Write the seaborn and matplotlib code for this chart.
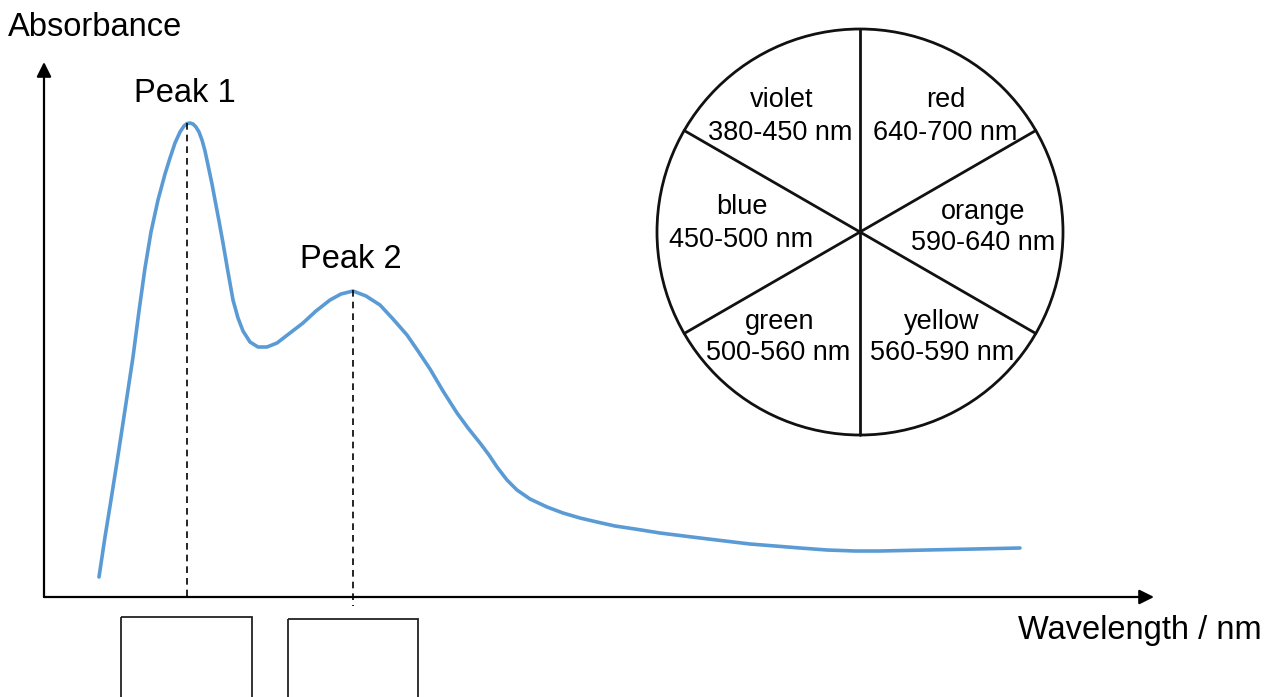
import numpy as np
import pandas as pd
import matplotlib.pyplot as plt
import seaborn as sns
from matplotlib.patches import Circle, Rectangle

# absorbance curve (canvas pixels, y grows downward)
curve_x = [99, 105, 111, 117, 123, 128, 133, 139, 145, 151, 158, 165, 170, 175, 180,
           184, 187, 190, 193, 196, 199, 202, 205, 208, 212, 215, 219, 223, 228, 233,
           238, 243, 250, 258, 267, 277, 290, 303, 316, 330, 341, 353, 366, 380, 393,
           407, 418, 430, 443, 457, 468, 480, 489, 497, 507, 517, 530, 547, 563, 580,
           597, 615, 635, 660, 700, 750, 800, 827, 855, 880, 927, 975, 1020]
curve_y = [577, 537, 500, 462, 423, 390, 357, 311, 268, 232, 200, 174, 158, 143, 132,
           126, 123.5, 123, 124, 127, 132, 140, 151, 165, 184, 200, 221, 243, 272, 300,
           318, 331, 342, 347, 347, 343, 333, 323, 311, 300, 294, 291, 296, 305, 319,
           335, 351, 369, 391, 413, 428, 443, 455, 467, 480, 490, 499, 507, 513, 518,
           522, 526, 529, 533, 538, 544, 548, 550, 551, 551, 550, 549, 548]

peak_labels = ["Peak 1", "Peak 2"]
peak_x = [187, 353]
peak_y = [123, 290]

colour_names = ["violet", "red", "blue", "orange", "green", "yellow"]
colour_ranges = ["380-450 nm", "640-700 nm", "450-500 nm",
                 "590-640 nm", "500-560 nm", "560-590 nm"]
name_x = [782, 946, 742, 983, 780, 942]
name_y = [100, 100, 207, 212, 322, 322]
range_x = [780, 945, 741, 983, 778, 942]
range_y = [133, 133, 240, 243, 353, 353]

W, H = 1270, 697

sns.set_theme(style="white")
plt.rcParams["font.family"] = ["Liberation Sans", "DejaVu Sans"]
plt.rcParams["text.color"] = "black"

fig = plt.figure(figsize=(W / 100, H / 100), dpi=100)
ax = fig.add_axes([0, 0, 1, 1])
ax.set_xlim(0, W)
ax.set_ylim(H, 0)
ax.axis("off")

# axes with arrow heads
origin = (44, 597)
arrow = dict(arrowstyle="-|>", color="black", lw=1.6, mutation_scale=22,
             shrinkA=0, shrinkB=0)
ax.annotate("", xy=(44, 62), xytext=origin, arrowprops=arrow)
ax.annotate("", xy=(1154, 597), xytext=origin, arrowprops=arrow)
ax.text(8, 28, "Absorbance", fontsize=23.5, va="center", ha="left")
ax.text(1018, 631, "Wavelength / nm", fontsize=23.5, va="center", ha="left")

# the spectrum
df = pd.DataFrame({"x": curve_x, "y": curve_y})
sns.lineplot(data=df, x="x", y="y", ax=ax, color="#5B9BD5", lw=2.6, sort=False)
ax.lines[-1].set_solid_joinstyle("round")

# peak markers
for lbl, px, py, bottom in zip(peak_labels, peak_x, peak_y, [597, 606]):
    ax.plot([px, px], [py, bottom], color="black", lw=1.2, ls=(0, (4, 3)))
    ax.text(px - 2, py - 30, lbl, fontsize=23.5, ha="center", va="center")

# empty boxes under the peaks
ax.add_patch(Rectangle((121, 617), 131, 100, fill=False, ec="#222222", lw=1.3))
ax.add_patch(Rectangle((288, 619), 130, 100, fill=False, ec="#222222", lw=1.3))

# colour wheel
cx, cy, r = 860, 232, 203
ax.add_patch(Circle((cx, cy), r, fill=False, ec="#111111", lw=2))
for ang in [90, 30, 150]:
    a = np.deg2rad(ang)
    ax.plot([cx - r * np.cos(a), cx + r * np.cos(a)],
            [cy - r * np.sin(a), cy + r * np.sin(a)], color="#111111", lw=2)

for nm, rng, nx, ny, rx, ry in zip(colour_names, colour_ranges,
                                   name_x, name_y, range_x, range_y):
    ax.text(nx, ny, nm, fontsize=19.5, ha="center", va="center")
    ax.text(rx, ry, rng, fontsize=19.5, ha="center", va="center")

fig.savefig("out.png", dpi=100)
plt.close()
